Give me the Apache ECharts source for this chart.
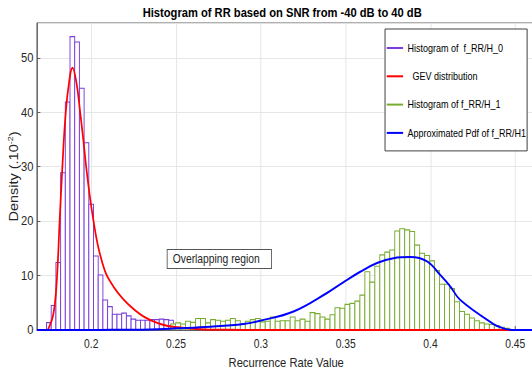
<!DOCTYPE html>
<html>
<head>
<meta charset="utf-8">
<script src="https://cdn.jsdelivr.net/npm/echarts@6/dist/echarts.min.js"></script>
<style>
  html, body { margin: 0; padding: 0; background: #fff; overflow: hidden; }
  #frame { width: 532px; height: 373px; overflow: hidden; }
  /* 原图被横向压缩过：按宽画图，再整体横向缩放 */
  #chart { width: 619px; height: 373px; transform: scaleX(0.859451); transform-origin: 0 0; }
</style>
</head>
<body>
<div id="frame"><div id="chart"></div></div>
<script>
// 直方图 H0：起点、组距、密度 (x10^-2)
const h0BinStart = 0.17364;
const h0BinWidth = 0.00277;
const h0Density = [1.35, 4.5, 12.4, 28.9, 41.9, 53.9, 52.9, 44.4, 34.4, 23.1, 13.6, 10.1, 5.5, 4.3,
  2.9, 2.9, 3.1, 2.6, 2.0, 1.8, 1.8, 1.8, 1.9, 1.9, 2.0, 1.9, 1.8, 0.6];

// 直方图 H1
const h1BinStart = 0.24682;
const h1BinWidth = 0.002936;
const h1Density = [1.1, 1.3, 1.1, 1.6, 1.4, 2.1, 2.1, 1.3, 1.9, 1.8, 1.6, 1.8, 2.1, 1.7, 1.1, 1.6, 1.9, 2.1,
  1.5, 1.6, 2.4, 1.6, 1.7, 1.7, 2.4, 1.7, 2.0, 1.6, 3.2, 3.0, 2.4, 2.0, 2.8, 4.1, 4.0, 4.7, 4.9, 5.3, 6.4,
  10.7, 8.8, 11.7, 13.8, 14.3, 14.7, 18.2, 18.6, 18.4, 18.1, 15.6, 14.1, 13.7, 12.7, 10.9, 8.4, 8.4, 7.6, 5.2,
  3.4, 2.9, 2.2, 1.7, 1.3, 1.1, 1.0, 0.8, 0.5, 0.3];

// GEV 拟合曲线 [x, density]
const gevCurve = [
  [0.1680, 0], [0.1735, 0], [0.1747, 0.2], [0.1776, 2.8], [0.1796, 8.6], [0.1815, 20.9], [0.1829, 29.4],
  [0.1845, 38.0], [0.1864, 44.2], [0.1890, 48.2], [0.1913, 45.4], [0.1933, 40.5], [0.1953, 35.0],
  [0.1972, 29.5], [0.1992, 24.5], [0.2012, 20.3], [0.2041, 15.3], [0.2081, 10.8], [0.2112, 8.9],
  [0.2153, 7.0], [0.2212, 4.9], [0.2307, 2.5], [0.2407, 1.1], [0.2507, 0.5], [0.2640, 0.15],
  [0.2800, 0.03], [0.3000, 0], [0.4700, 0]
];

// 近似 PDF 曲线
const pdfCurve = [
  [0.1680, 0], [0.2053, 0.02], [0.2348, 0.1], [0.2505, 0.3], [0.2702, 0.6], [0.2898, 1.1], [0.2996, 1.7],
  [0.3193, 3.4], [0.3390, 6.8], [0.3488, 8.8], [0.3586, 10.7], [0.3685, 12.3], [0.3782, 13.2],
  [0.3881, 13.4], [0.3980, 12.6], [0.4058, 10.1], [0.4117, 8.0], [0.4176, 5.5], [0.4372, 1.1],
  [0.4431, 0.3], [0.4482, 0], [0.4700, 0]
];

const seriesNames = ['Histogram of  f_RR/H_0', '  GEV distribution', 'Histogram of f_RR/H_1', 'Approximated Pdf of f_RR/H1'];
const seriesColors = ['#7a3ddc', '#ff0000', '#77ac30', '#0000ff'];

const xMin = 0.168;
const xMax = 0.47;
const yMax = 56.4;

const FONT = "'Liberation Sans', Arial, Helvetica, sans-serif";
const TEXT = '#262626';
const AXIS = '#555555';

function toBins(start, width, values) {
  return values.map((v, i) => [start + i * width, start + (i + 1) * width, v]);
}

function histRenderer(stroke, fill) {
  return function (params, api) {
    const top = api.coord([api.value(0), api.value(2)]);
    const bottom = api.coord([api.value(1), 0]);
    return {
      type: 'rect',
      shape: { x: top[0], y: top[1], width: bottom[0] - top[0], height: bottom[1] - top[1] },
      style: { fill: fill, stroke: stroke, lineWidth: 1.1 }
    };
  };
}

const chart = echarts.init(document.getElementById('chart'), null, { renderer: 'svg' });

chart.setOption({
  animation: false,
  backgroundColor: '#fff',
  title: {
    text: 'Histogram of RR based on SNR from -40 dB to 40 dB',
    left: 166, top: 5, padding: 0,
    textStyle: { fontFamily: FONT, fontSize: 13, fontWeight: 'bold', color: '#000', lineHeight: 15 }
  },
  grid: {
    left: 43, top: 23, right: -20, bottom: 43,
    outerBoundsMode: 'none', containLabel: false,
    show: true, borderColor: AXIS, borderWidth: 1, backgroundColor: '#fff'
  },
  legend: {
    orient: 'vertical',
    left: 448, top: 29,
    padding: [13, 1, 12, 2],
    itemWidth: 19, itemHeight: 2, itemGap: 16.3,
    backgroundColor: '#fff', borderColor: '#333', borderWidth: 1,
    textStyle: { fontFamily: FONT, fontSize: 10.5, color: '#000', lineHeight: 12 },
    data: seriesNames.map((n, i) => ({ name: n, icon: 'rect', itemStyle: { color: seriesColors[i], borderWidth: 0 } }))
  },
  xAxis: {
    type: 'value', min: xMin, max: xMax, splitNumber: 6,
    name: 'Recurrence Rate Value', nameLocation: 'middle', nameGap: 26, nameMoveOverlap: false,
    nameTextStyle: { fontFamily: FONT, fontSize: 13, color: TEXT, padding: [0, 16, 0, 0] },
    axisLine: { show: true, onZero: false, lineStyle: { color: AXIS } },
    axisTick: { show: true, inside: true, length: 4, lineStyle: { color: AXIS } },
    axisLabel: {
      showMinLabel: false, showMaxLabel: false, margin: 8,
      fontFamily: FONT, fontSize: 12, color: TEXT,
      formatter: v => String(parseFloat(v.toFixed(3)))
    },
    splitLine: { show: true, lineStyle: { color: '#e4e4e4' } }
  },
  yAxis: {
    type: 'value', min: 0, max: yMax, interval: 10,
    name: 'Density (.10{sup|-2})', nameLocation: 'middle', nameGap: 18, nameMoveOverlap: false,
    nameTextStyle: {
      fontFamily: FONT, fontSize: 14.5, color: TEXT, lineHeight: 18,
      rich: { sup: { fontFamily: FONT, fontSize: 9, verticalAlign: 'top', lineHeight: 11, color: TEXT } }
    },
    axisLine: { show: true, lineStyle: { color: AXIS } },
    axisTick: { show: true, inside: true, length: 4, lineStyle: { color: AXIS } },
    axisLabel: { showMaxLabel: false, margin: 4, fontFamily: FONT, fontSize: 13, color: TEXT },
    splitLine: { show: true, lineStyle: { color: '#e4e4e4' } }
  },
  series: [
    {
      name: seriesNames[0], type: 'custom', clip: true,
      itemStyle: { color: seriesColors[0] },
      encode: { x: [0, 1], y: 2 },
      renderItem: histRenderer(seriesColors[0], '#ffffff'),
      data: toBins(h0BinStart, h0BinWidth, h0Density), z: 2
    },
    {
      name: seriesNames[2], type: 'custom', clip: true,
      itemStyle: { color: seriesColors[2] },
      encode: { x: [0, 1], y: 2 },
      renderItem: histRenderer(seriesColors[2], '#ffffff'),
      data: toBins(h1BinStart, h1BinWidth, h1Density), z: 2
    },
    {
      name: seriesNames[1], type: 'line', data: gevCurve, showSymbol: false,
      smooth: 0.4, clip: true,
      lineStyle: { color: seriesColors[1], width: 2 }, itemStyle: { color: seriesColors[1] }, z: 3
    },
    {
      name: seriesNames[3], type: 'line', data: pdfCurve, showSymbol: false,
      smooth: 0.4, clip: true,
      lineStyle: { color: seriesColors[3], width: 2 }, itemStyle: { color: seriesColors[3] }, z: 4
    }
  ],
  graphic: [
    {
      type: 'text', left: 194, top: 249, z: 10,
      style: {
        text: 'Overlapping region', fontFamily: FONT, fontSize: 12, fill: TEXT,
        backgroundColor: '#fff', borderColor: '#555', borderWidth: 1, padding: [3, 13, 3, 6]
      }
    }
  ]
});
</script>
</body>
</html>
